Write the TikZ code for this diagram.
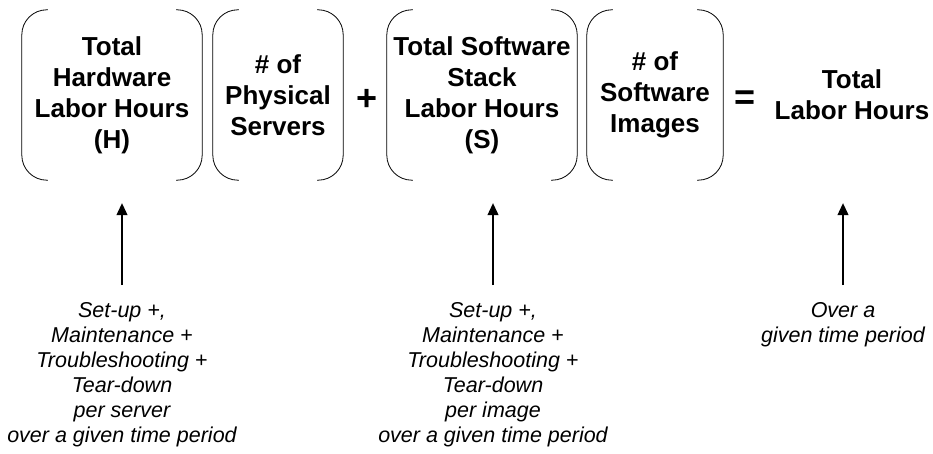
\documentclass[tikz,border=0pt]{standalone}
\usepackage{fontspec}
\setmainfont{Liberation Sans}
\usetikzlibrary{arrows.meta}
\tikzset{
  factor/.style={inner sep=0pt, minimum height=170pt, align=center, font=\bfseries\fontsize{26}{31}\selectfont},
  note/.style={inner sep=0pt, align=center, font=\itshape\fontsize{21.5}{25}\selectfont},
  sign/.style={inner sep=0pt, font=\bfseries\fontsize{36}{36}\selectfont},
  uparrow/.style={line width=1.1pt, -{Triangle[width=11pt,length=12pt]}, shorten <=17pt, shorten >=23pt},
  paren/.style={line width=0.8pt, rounded corners=25pt}
}
\newcommand\bracketed[1]{%
  \draw[paren] ([xshift=26pt]#1.north west) -- (#1.north west) -- (#1.south west) -- ([xshift=26pt]#1.south west);
  \draw[paren] ([xshift=-26pt]#1.north east) -- (#1.north east) -- (#1.south east) -- ([xshift=-26pt]#1.south east);}
\begin{document}
\begin{tikzpicture}[x=1pt, y=1pt]
    \useasboundingbox (0,0) rectangle (933,454);
    \node[factor, minimum width=180pt] (hw) at (112,359) {Total\\Hardware\\Labor Hours\\(H)};
    \node[factor, minimum width=130pt] (srv) at (278,359) {\# of\\Physical\\Servers};
    \node[sign] (plus) at (367,354) {+};
    \node[factor, minimum width=190pt] (sw) at (482,359) {Total Software\\Stack\\Labor Hours\\(S)};
    \node[factor, minimum width=136pt] (img) at (655,359) {\# of\\Software\\Images};
    \node[sign] (eq) at (745,354) {=};
    \node[factor] (tot) at (852,359) {Total\\Labor Hours};
    \bracketed{hw} \bracketed{srv} \bracketed{sw} \bracketed{img}
    \node[note] (hwnote) at (122,79.5) {Set-up +,\\Maintenance +\\Troubleshooting +\\Tear-down\\per server\\over a given time period};
    \node[note] (swnote) at (493,79.5) {Set-up +,\\Maintenance +\\Troubleshooting +\\Tear-down\\per image\\over a given time period};
    \node[note] (totnote) at (843,129.5) {Over a\\given time period};
    \draw[uparrow] (hwnote.north) -- (hwnote.north |- hw.south);
    \draw[uparrow] (swnote.north) -- (swnote.north |- sw.south);
    \draw[uparrow] (totnote.north) -- (totnote.north |- tot.south);
\end{tikzpicture}
\end{document}
